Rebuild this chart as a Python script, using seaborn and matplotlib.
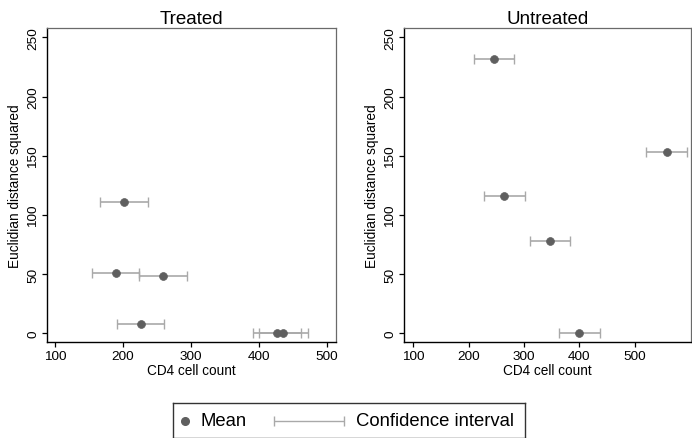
import pandas as pd
import numpy as np
import matplotlib
matplotlib.use("Agg")
import matplotlib.pyplot as plt
import seaborn as sns

# Estimated values
treated_mean = [201.6, 189.4, 259.0, 226.2, 426.5, 436.3]
treated_dist = [110.8, 50.6, 48.3, 7.9, 0.0, 0.0]
treated_lo = [166.0, 154.0, 224.0, 191.0, 391.0, 401.0]
treated_hi = [236.5, 224.0, 294.0, 261.0, 462.0, 472.0]

untreated_mean = [246.3, 557.8, 264.5, 347.0, 400.0]
untreated_dist = [231.7, 153.4, 116.2, 78.0, 0.0]
untreated_lo = [209.3, 521.0, 228.0, 310.6, 364.0]
untreated_hi = [282.7, 594.0, 301.0, 384.0, 437.0]

panel_titles = ["Treated", "Untreated"]
x_ticks = [100, 200, 300, 400, 500]
y_ticks = [0, 50, 100, 150, 200, 250]
legend_labels = ["Mean", "Confidence interval"]

MEAN_COLOR = "#5f5f5f"
CI_COLOR = "#a9a9a9"

sns.set_style("white")
plt.rcParams["font.family"] = ["Liberation Sans", "DejaVu Sans"]
plt.rcParams.update({
    "text.color": "black",
    "axes.labelcolor": "black",
    "xtick.color": "black",
    "ytick.color": "black",
})

W, H = 692, 439
fig = plt.figure(figsize=(W / 100, H / 100), dpi=100)


def px_axes(x0, y0, x1, y1):
    return fig.add_axes([x0 / W, 1 - y1 / H, (x1 - x0) / W, (y1 - y0) / H])


panels = [
    (pd.DataFrame({"cd4": treated_mean, "dist": treated_dist,
                   "lo": treated_lo, "hi": treated_hi}),
     px_axes(47, 29.3, 336, 343), (88.2, 513.7)),
    (pd.DataFrame({"cd4": untreated_mean, "dist": untreated_dist,
                   "lo": untreated_lo, "hi": untreated_hi}),
     px_axes(404, 29.3, 691.5, 343), (83.0, 603.0)),
]

for (df, ax, xlim), title in zip(panels, panel_titles):
    ax.errorbar(df["cd4"], df["dist"],
                xerr=[df["cd4"] - df["lo"], df["hi"] - df["cd4"]],
                fmt="none", ecolor=CI_COLOR, elinewidth=1.2,
                capsize=3.4, capthick=1.0, zorder=2)
    sns.scatterplot(data=df, x="cd4", y="dist", ax=ax, color=MEAN_COLOR,
                    s=32, edgecolor=MEAN_COLOR, linewidth=0.5, zorder=3)

    ax.set_xlim(*xlim)
    ax.set_ylim(-7.3, 257.6)
    ax.set_xticks(x_ticks)
    ax.set_yticks(y_ticks)
    ax.set_title(title, fontsize=13.5, pad=4, color="black")
    ax.set_xlabel("CD4 cell count", fontsize=9.8, labelpad=1)
    ax.set_ylabel("Euclidian distance squared", fontsize=9.8, labelpad=4)
    ax.tick_params(axis="both", direction="out", length=3.5, width=0.9,
                   color="black", labelcolor="black", labelsize=9.7, pad=2,
                   bottom=True, left=True)
    for lab in ax.get_yticklabels():
        lab.set_rotation(90)
        lab.set_va("center")
    for side in ["left", "bottom"]:
        ax.spines[side].set_color("black")
        ax.spines[side].set_linewidth(1.0)
    for side in ["top", "right"]:
        ax.spines[side].set_color("#6a6a6a")
        ax.spines[side].set_linewidth(0.9)

# Legend drawn as a small framed box underneath the panels
lax = px_axes(172.7, 404.3, 525, 439)
lax.set_xlim(0, 352.3)
lax.set_ylim(0, 34.7)
lax.set_xticks([])
lax.set_yticks([])
for side in lax.spines:
    lax.spines[side].set_color("#333333")
    lax.spines[side].set_linewidth(1.0)
lax.plot([12.3], [17.2], "o", color=MEAN_COLOR, markersize=5.5)
lax.text(28, 17.2, legend_labels[0], fontsize=13.3, va="center", ha="left")
lax.errorbar([136], [17.2], xerr=[[35], [35]], fmt="none",
             ecolor=CI_COLOR, elinewidth=1.0, capsize=3.4, capthick=1.0)
lax.text(183.3, 17.2, legend_labels[1], fontsize=13.3, va="center", ha="left")

fig.savefig("out.png", dpi=100)
